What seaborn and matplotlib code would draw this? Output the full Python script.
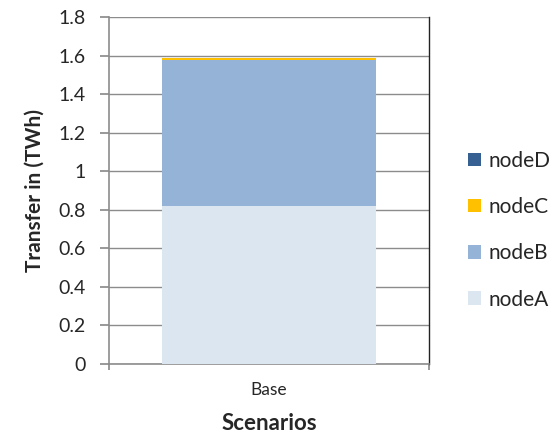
import matplotlib
matplotlib.use("Agg")
import matplotlib.pyplot as plt
import seaborn as sns
import pandas as pd
import numpy as np
from matplotlib.patches import Patch

scenarios = ["Base"]
nodes = ["nodeA", "nodeB", "nodeC", "nodeD"]
nodeA = [0.82]
nodeB = [0.755]
nodeC = [0.012]
nodeD = [0.001]
colors = {"nodeA": "#DCE6F1", "nodeB": "#95B3D7", "nodeC": "#FFC000", "nodeD": "#376092"}
yticks = [0, 0.2, 0.4, 0.6, 0.8, 1, 1.2, 1.4, 1.6, 1.8]
ytick_labels = ["0", "0.2", "0.4", "0.6", "0.8", "1", "1.2", "1.4", "1.6", "1.8"]

sns.set_theme(style="white")
plt.rcParams["font.family"] = ["Lato", "DejaVu Sans"]

fig = plt.figure(figsize=(5.54, 4.36), dpi=100)
# plot area: x 109..429, y 17..364 (pixels)
ax = fig.add_axes([109 / 554, 1 - 364 / 436, 320 / 554, 347 / 436])

series = {"nodeA": nodeA, "nodeB": nodeB, "nodeC": nodeC, "nodeD": nodeD}
cum = np.zeros(len(scenarios))
cums = {}
for n in nodes:
    cum = cum + np.array(series[n])
    cums[n] = cum.copy()

for n in reversed(nodes):
    df = pd.DataFrame({"Scenario": scenarios, "value": cums[n]})
    sns.barplot(data=df, x="Scenario", y="value", color=colors[n], width=0.67,
                saturation=1, ax=ax, zorder=3, edgecolor="none", linewidth=0)

ax.set_xlim(-0.5, 0.5)
ax.set_ylim(0, 1.8)
ax.set_yticks(yticks)
ax.set_yticklabels(ytick_labels, fontsize=14)
ax.yaxis.grid(True, color="#8c8c8c", linewidth=1, zorder=0)
ax.set_axisbelow(True)
ax.set_xticks([-0.5, 0.5], minor=False)
ax.set_xticklabels([])
ax.set_xticks([0], minor=True)
ax.set_xticklabels(["Base"], minor=True, fontsize=12.5)
ax.tick_params(axis="x", which="minor", length=0, pad=13)
ax.tick_params(axis="x", which="major", length=4, color="#8c8c8c", direction="out", bottom=True)
ax.tick_params(axis="y", length=6.5, color="#8c8c8c", direction="out", left=True, pad=10)

ax.spines["top"].set_visible(False)
ax.spines["right"].set_color("#222222")
ax.spines["right"].set_linewidth(1.0)
for s in ["left", "bottom"]:
    ax.spines[s].set_color("#8c8c8c")
    ax.spines[s].set_linewidth(1.2)

ax.set_xlabel("Scenarios", fontsize=16, fontweight="bold")
ax.xaxis.set_label_coords(0.5, -0.142)
ax.set_ylabel("Transfer in (TWh)", fontsize=15, fontweight="bold")
ax.yaxis.set_label_coords(-0.2, 0.5)

handles = [Patch(facecolor=colors[n], edgecolor="none", label=n) for n in reversed(nodes)]
leg = fig.legend(handles=handles, loc="center left", bbox_to_anchor=(468 / 554, 0.472),
                 frameon=False, fontsize=15, handlelength=0.62, handleheight=0.62,
                 labelspacing=1.26, handletextpad=0.38, borderpad=0, borderaxespad=0)

fig.savefig("out.png", dpi=100)
